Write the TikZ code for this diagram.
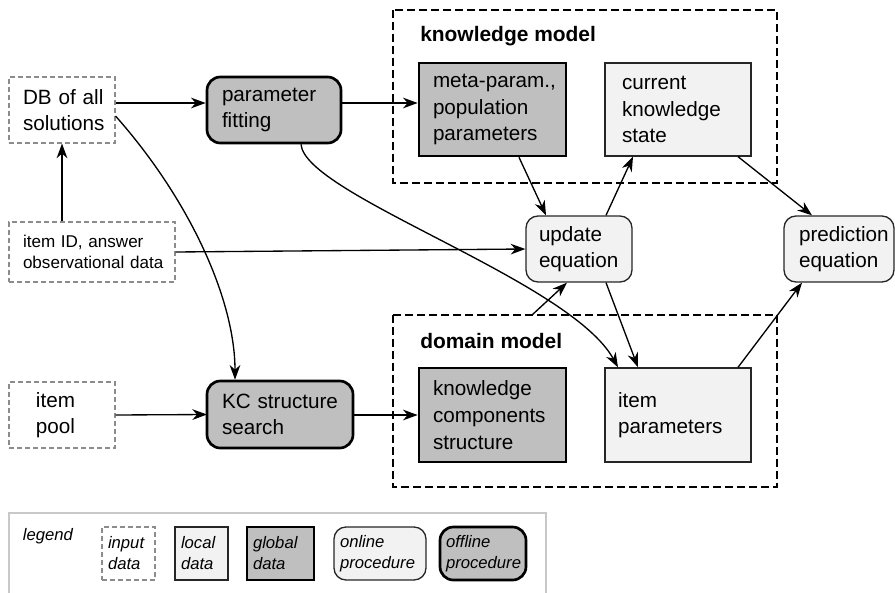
\documentclass[tikz,border=0pt]{standalone}
\usepackage{fontspec}
\setmainfont{Liberation Sans}
\usetikzlibrary{arrows.meta}
\hyphenpenalty=10000
\exhyphenpenalty=10000
\definecolor{gfill}{HTML}{BFBFBF}
\definecolor{lfill}{HTML}{F2F2F2}
\definecolor{inbord}{HTML}{8C8C8C}
\definecolor{legbord}{HTML}{C8C8C8}
\begin{document}
\begin{tikzpicture}[x=0.75pt,y=-0.75pt,
  base/.style={align=left,inner ysep=0pt,font=\fontsize{15.5}{20}\selectfont},
  inputbox/.style={base,draw=inbord,line width=0.8pt,dash pattern=on 3.75pt off 2.25pt,fill=white},
  localbox/.style={base,draw=black!85,line width=1pt,fill=lfill},
  globalbox/.style={base,draw=black,line width=2pt,fill=gfill},
  onlineproc/.style={base,draw=black!85,line width=1pt,fill=lfill,rounded corners=9pt},
  offlineproc/.style={base,draw=black,line width=2pt,fill=gfill,rounded corners=10pt},
  modelbox/.style={draw=black,line width=0.9pt,dash pattern=on 6pt off 3pt},
  modellabel/.style={font=\fontsize{15.7}{19}\selectfont\bfseries,anchor=base west,inner sep=0pt},
  legfont/.style={font=\fontsize{12.5}{15.75}\selectfont\itshape,inner xsep=4.5pt},
  conn/.style={line width=1pt,-{Stealth[length=11pt,width=8pt,inset=3.5pt]}}
]
\useasboundingbox (0,0) rectangle (895,592);

% model boxes
\draw[modelbox] (393,10) rectangle (777,183);
\draw[modelbox] (393,315) rectangle (777,487);
\node[modellabel] (kmlabel) at (420,42) {knowledge model};
\node[modellabel] (dmlabel) at (420,348) {domain model};

% nodes
\node[inputbox,text width=58.5pt,inner xsep=10.5pt,minimum height=49.5pt] (db) at (62,110) {\mbox{DB of all}\\solutions};
\node[offlineproc,text width=78pt,inner xsep=11.25pt,minimum height=49.5pt] (fit) at (274,110) {parameter\\fitting};
\node[globalbox,text width=89.25pt,inner xsep=10.5pt,minimum height=69.75pt] (meta) at (492.5,109.5) {\mbox{meta-param.,}\\population\\parameters};
\node[localbox,text width=84pt,inner xsep=12.75pt,minimum height=69.75pt] (cur) at (678,109.5) {current\\knowledge\\state};
\node[inputbox,text width=103.5pt,inner xsep=10.5pt,minimum height=45pt,font=\fontsize{12.8}{16.3}\selectfont] (obs) at (92,252) {\mbox{item ID, answer}\\\mbox{observational data}};
\node[onlineproc,text width=60pt,inner xsep=9.75pt,minimum height=49.5pt] (upd) at (579,249) {update\\equation};
\node[onlineproc,text width=60pt,inner xsep=11.25pt,minimum height=49.5pt] (pred) at (839,249) {prediction\\equation};
\node[inputbox,text width=39pt,inner xsep=20.25pt,minimum height=49.5pt] (pool) at (62,415) {item\\pool};
\node[offlineproc,text width=87pt,inner xsep=11.25pt,minimum height=50.25pt] (kcs) at (280,414.5) {\mbox{KC structure}\\search};
\node[globalbox,text width=89.25pt,inner xsep=10.5pt,minimum height=70.5pt] (kcst) at (492.5,415) {knowledge\\components\\structure};
\node[localbox,text width=90pt,inner xsep=9.75pt,minimum height=70.5pt] (ipar) at (678,415) {item\\parameters};

% connectors
\draw[conn] (db.east |- 0,103) -- (fit.west |- 0,103);
\draw[conn] (fit.east |- 0,103) -- (meta.west |- 0,103);
\draw[conn] (obs.north -| 62,0) -- (db.south -| 62,0);
\draw[conn] (obs.east) -- (upd.west);
\draw[conn] (meta.south -| 519,0) -- (upd.north -| 546,0);
\draw[conn] (upd.north -| 606,0) -- (cur.south -| 633,0);
\draw[conn] (cur.south -| 738,0) -- (pred.north -| 812,0);
\draw[conn] (pool.east) -- (kcs.west -| 207,415);
\draw[conn] (kcs.east |- 0,415) -- (kcst.west);
\coordinate (dmtop) at (532,315);
\draw[conn] (dmtop) -- (upd.south -| 567,0);
\draw[conn] (upd.south -| 606,0) -- (ipar.north -| 638,0);
\draw[conn] (ipar.north -| 738,0) -- (pred.south -| 802,0);
\draw[conn] (db.east |- 0,116) .. controls (190,200) and (235,300) .. (kcs.north -| 235,0);
\draw[conn] (fit.south -| 301,0) .. controls (305,195) and (570,280) .. (ipar.north -| 618,0);

% legend
\draw[draw=legbord,line width=0.8pt] (9,513) rectangle (546,600);
\node[legfont,anchor=base west,inner sep=0pt] (leg) at (22.7,540) {legend};
\node[inputbox,legfont,text width=30.75pt,minimum height=39.75pt] (l1) at (128.5,553.5) {input\\data};
\node[localbox,legfont,text width=30.75pt,minimum height=39.75pt] (l2) at (201.5,553.5) {local\\data};
\node[globalbox,legfont,text width=41.25pt,minimum height=39.75pt] (l3) at (280.5,553.5) {global\\data};
\node[onlineproc,legfont,text width=60pt,minimum height=39.75pt] (l4) at (380,553.5) {online\\procedure};
\node[offlineproc,legfont,text width=55.5pt,minimum height=39.75pt] (l5) at (483,553.5) {offline\\procedure};
\end{tikzpicture}
\end{document}
